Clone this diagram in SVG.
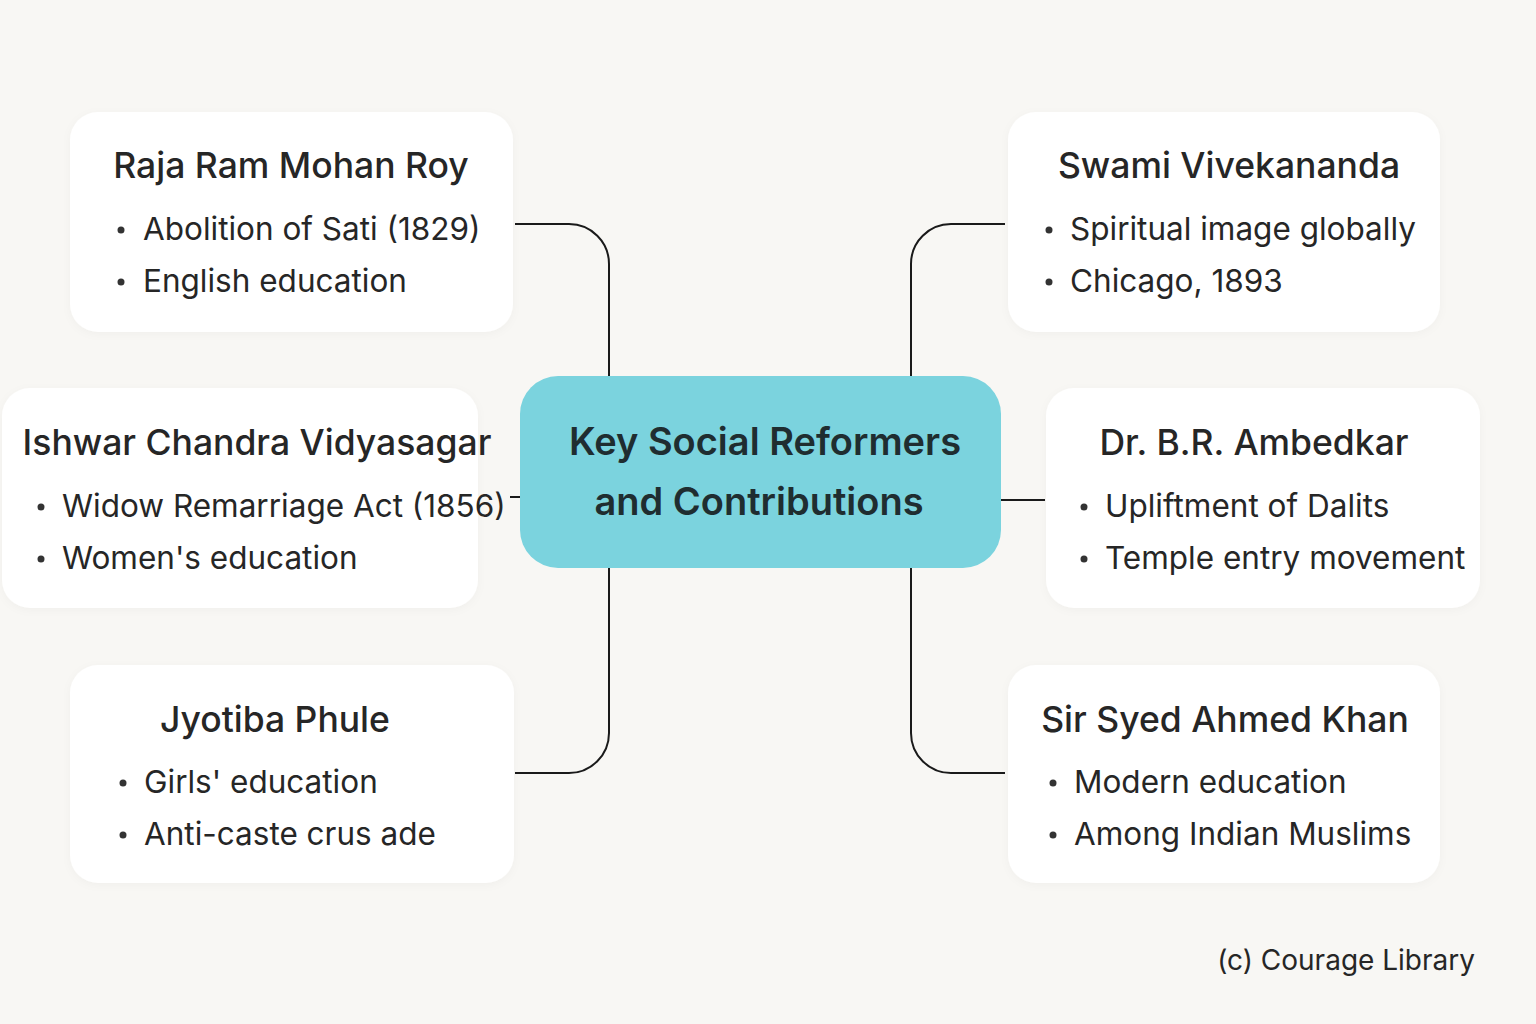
<svg xmlns="http://www.w3.org/2000/svg" width="1536" height="1024" viewBox="0 0 1536 1024">
<defs>
<filter id="sh" x="-10%" y="-10%" width="120%" height="130%">
<feDropShadow dx="0" dy="2" stdDeviation="4" flood-color="#000" flood-opacity="0.03"/>
</filter>
</defs>
<style>
.card{fill:#ffffff;filter:url(#sh)}
.title{font-family:Inter,"Noto Sans",sans-serif;font-size:35.5px;font-weight:500;fill:#262626;text-anchor:middle}
.item{font-family:Inter,"Noto Sans",sans-serif;font-size:31.5px;font-weight:400;fill:#262626}
.dot{fill:#333}
.conn{fill:none;stroke:#1a1a1a;stroke-width:2}
.ctr{font-family:Inter,"Noto Sans",sans-serif;font-size:38px;font-weight:600;fill:#1f2d30;text-anchor:middle}
</style>
<rect width="1536" height="1024" fill="#f8f7f4"/>
<g id="connectors">
<path class="conn" d="M515 224 H569 A40 40 0 0 1 609 264 V376"/>
<path class="conn" d="M609 568 V733 A40 40 0 0 1 569 773 H515"/>
<path class="conn" d="M510 497 H520"/>
<path class="conn" d="M1001 500 H1045"/>
<path class="conn" d="M1005 224 H951 A40 40 0 0 0 911 264 V376"/>
<path class="conn" d="M911 568 V733 A40 40 0 0 0 951 773 H1005"/>
</g>
<g id="center">
<rect x="520" y="376" width="481" height="192" rx="38" fill="#7bd3de"/>
<text class="ctr" x="765" y="455">Key Social Reformers</text>
<text class="ctr" x="759" y="515">and Contributions</text>
</g>
<g id="roy">
<rect class="card" x="70" y="112" width="443" height="220" rx="28"/>
<text class="title" x="291" y="178">Raja Ram Mohan Roy</text>
<circle class="dot" cx="121" cy="230" r="3.5"/>
<text class="item" x="143" y="240">Abolition of Sati (1829)</text>
<circle class="dot" cx="121" cy="282" r="3.5"/>
<text class="item" x="143" y="292">English education</text>
</g>
<g id="vidyasagar">
<rect class="card" x="2" y="388" width="476" height="220" rx="28"/>
<text class="title" x="257" y="455">Ishwar Chandra Vidyasagar</text>
<circle class="dot" cx="41" cy="507" r="3.5"/>
<text class="item" x="62" y="517">Widow Remarriage Act (1856)</text>
<circle class="dot" cx="41" cy="559" r="3.5"/>
<text class="item" x="62" y="569">Women's education</text>
</g>
<g id="phule">
<rect class="card" x="70" y="665" width="444" height="218" rx="28"/>
<text class="title" x="275" y="732">Jyotiba Phule</text>
<circle class="dot" cx="123" cy="783" r="3.5"/>
<text class="item" x="144" y="793">Girls' education</text>
<circle class="dot" cx="123" cy="835" r="3.5"/>
<text class="item" x="144" y="845">Anti-caste crus ade</text>
</g>
<g id="vivekananda">
<rect class="card" x="1008" y="112" width="432" height="220" rx="28"/>
<text class="title" x="1229" y="178">Swami Vivekananda</text>
<circle class="dot" cx="1049" cy="230" r="3.5"/>
<text class="item" x="1070" y="240">Spiritual image globally</text>
<circle class="dot" cx="1049" cy="282" r="3.5"/>
<text class="item" x="1070" y="292">Chicago, 1893</text>
</g>
<g id="ambedkar">
<rect class="card" x="1046" y="388" width="434" height="220" rx="28"/>
<text class="title" x="1254" y="455">Dr. B.R. Ambedkar</text>
<circle class="dot" cx="1084" cy="507" r="3.5"/>
<text class="item" x="1105" y="517">Upliftment of Dalits</text>
<circle class="dot" cx="1084" cy="559" r="3.5"/>
<text class="item" x="1105" y="569">Temple entry movement</text>
</g>
<g id="khan">
<rect class="card" x="1008" y="665" width="432" height="218" rx="28"/>
<text class="title" x="1225" y="732">Sir Syed Ahmed Khan</text>
<circle class="dot" cx="1053" cy="783" r="3.5"/>
<text class="item" x="1074" y="793">Modern education</text>
<circle class="dot" cx="1053" cy="835" r="3.5"/>
<text class="item" x="1074" y="845">Among Indian Muslims</text>
</g>
<text x="1475" y="970" font-family="Inter,'Noto Sans',sans-serif" font-size="28" fill="#262626" text-anchor="end">(c) Courage Library</text>
</svg>
